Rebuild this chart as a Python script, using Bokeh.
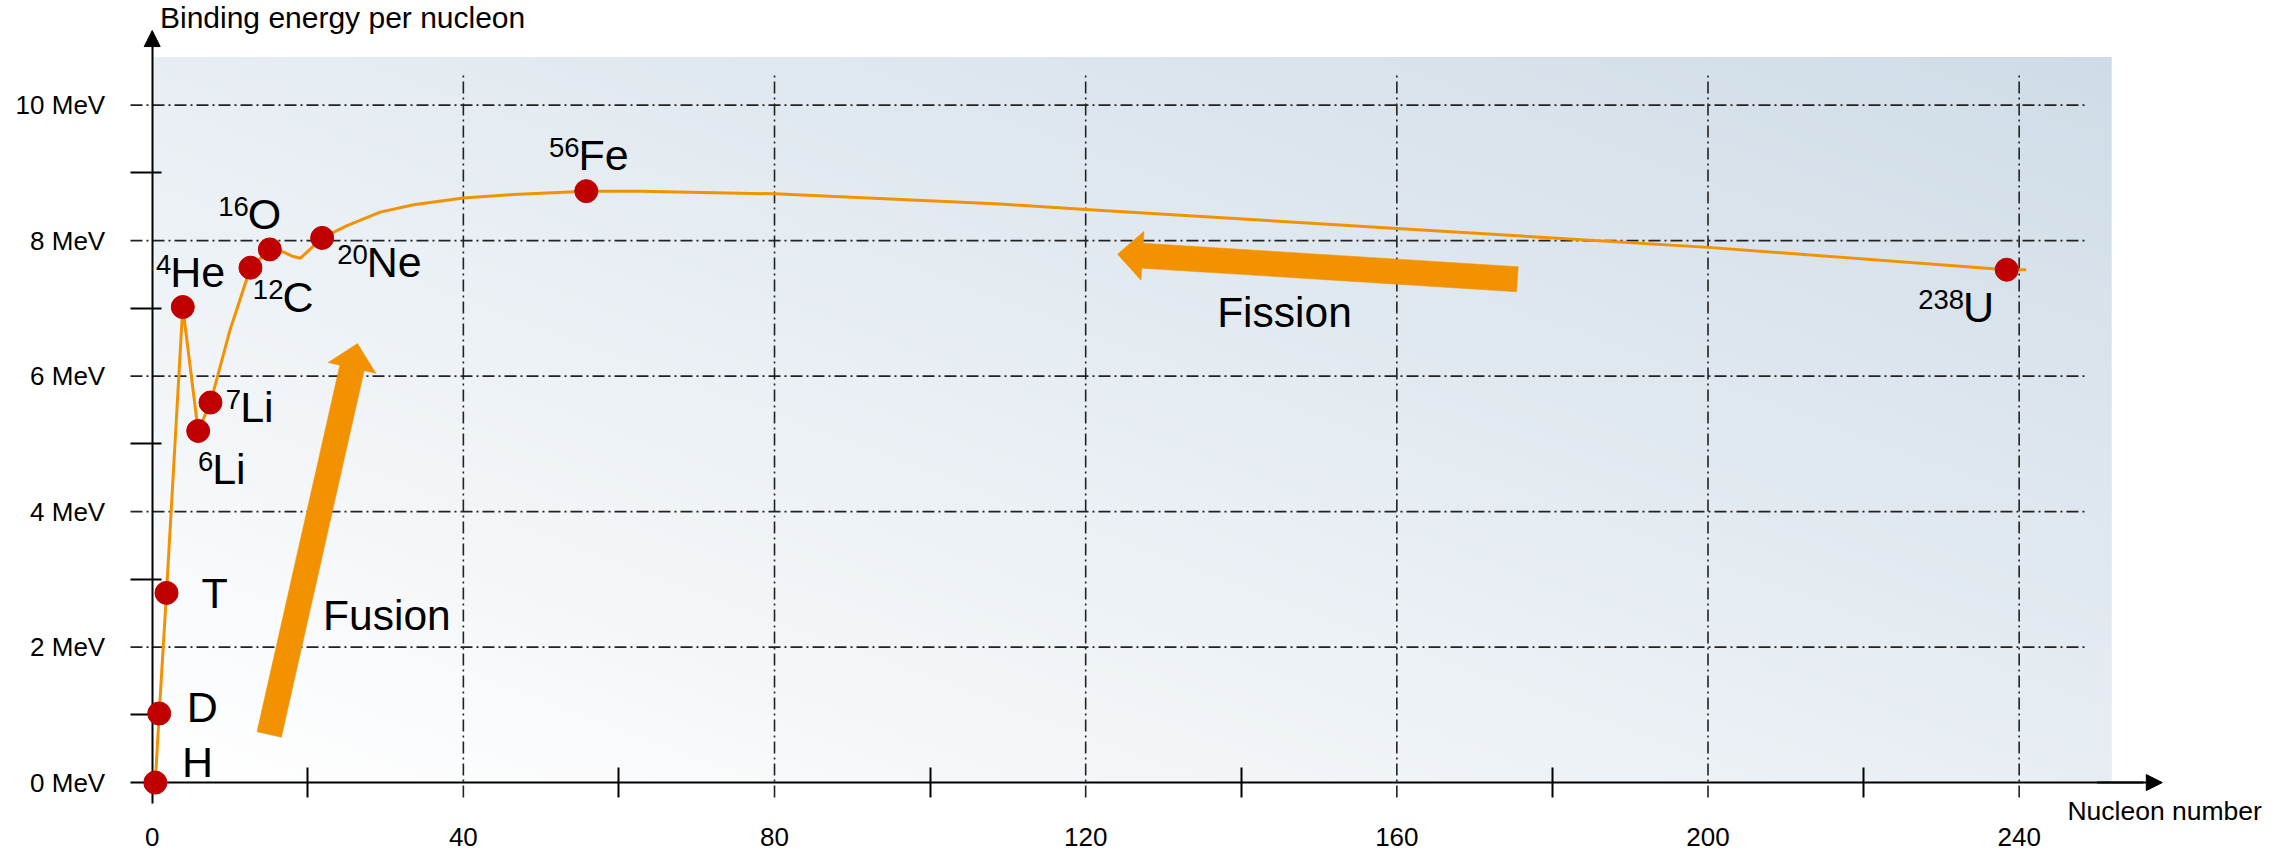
import math
import numpy as np
from bokeh.plotting import figure
from bokeh.models import (Range1d, FixedTicker, PrintfTickFormatter, Arrow,
                          NormalHead, Label, ColumnDataSource)
from bokeh.core.properties import value
from bokeh.embed import file_html
from bokeh.resources import INLINE

# ---------------- data ----------------
isotope_symbol = ["H", "D", "T", "He", "Li", "Li", "C", "O", "Ne", "Fe", "U"]
isotope_mass = ["", "", "", "4", "6", "7", "12", "16", "20", "56", "238"]
nucleon_number = [0.4, 0.9, 1.84, 3.93, 5.91, 7.49, 12.63, 15.12, 21.85, 55.8, 238.4]
binding_energy = [0.0, 1.02, 2.80, 7.02, 5.19, 5.61, 7.60, 7.87, 8.04, 8.73, 7.57]

# further points
curve_extra_a = [9.98, 16.7, 18.0, 19.06, 25.06, 29.3, 33.6, 40.0, 46.5, 62.8,
                 80.0, 109.0, 120.0, 160.0, 200.0, 240.9]
curve_extra_e = [6.67, 7.84, 7.77, 7.74, 8.22, 8.42, 8.53, 8.63, 8.68, 8.73,
                 8.69, 8.54, 8.46, 8.18, 7.90, 7.57]

x_ticks = [0, 40, 80, 120, 160, 200, 240]
x_minor = [20, 60, 100, 140, 180, 220]
y_ticks = [0, 2, 4, 6, 8, 10]
y_minor = [1, 3, 5, 7, 9]

fusion_arrow = [(15.04, 0.71), (26.39, 6.48)]
fission_arrow = [(175.5, 7.43), (124.1, 7.80)]

# ---------------- layout / style ----------------
FONT = "Liberation Sans"
ORANGE = "#f39200"
RED = "#c00000"
GRID = "#222222"

W, H = 2293, 856
AX0, SX = 151.7, 7.779      # pixel of A=0, px per nucleon
EY0, SY = 782.1, 67.75      # pixel (from top) of E=0, px per MeV

LAB_FS, SUP_FS, BIG_FS = 43.0, 27.5, 42.5
MID = 0.36                  # cap centre above the baseline, in em

# label offsets (px) of the symbol text origin / baseline from its point (dy: downwards)
label_dx = [26.6, 27.6, 35.0, -12.6, 14.0, 29.7, 32.0, -22.0, 44.6, -7.7, -43.7]
label_dy = [-5.4, 9.4, 15.9, -19.8, 53.9, 19.7, 44.4, -19.7, 39.4, -20.7, 52.7]

p = figure(width=W, height=H,
           x_range=Range1d(-AX0 / SX, (W - AX0) / SX),
           y_range=Range1d(-(H - EY0) / SY, EY0 / SY),
           output_backend="svg", toolbar_location=None,
           min_border=0, outline_line_color=None,
           background_fill_color="white", border_fill_color="white")
p.xgrid.visible = False
p.ygrid.visible = False

# background gradient
bg_w, bg_h = 251.9, 10.71
nx, ny = 500, 150
u = np.linspace(0, 1, nx)[None, :]
v = np.linspace(0, 1, ny)[:, None]
t = (u + v) / 2.0
top = np.array([207, 220, 231])
img = np.empty((ny, nx), dtype=np.uint32)
view = img.view(dtype=np.uint8).reshape((ny, nx, 4))
for k in range(3):
    view[:, :, k] = np.round(255 + (top[k] - 255) * t).astype(np.uint8)
view[:, :, 3] = 255
p.image_rgba(image=[img], x=0, y=0, dw=bg_w, dh=bg_h, level="image")

# dash-dot grid lines
gx = x_ticks[1:]
gy = y_ticks[1:]
p.segment(x0=gx, y0=[-0.22] * len(gx), x1=gx, y1=[10.49] * len(gx),
          line_color=GRID, line_width=1.6, line_dash="12 4 2 4", level="image")
p.segment(x0=[-2.79] * len(gy), y0=gy, x1=[248.8] * len(gy), y1=gy,
          line_color=GRID, line_width=1.6, line_dash="12 4 2 4", level="image")

# axes
xa = p.xaxis[0]
ya = p.yaxis[0]
xa.fixed_location = 0
ya.fixed_location = 0
xa.ticker = FixedTicker(ticks=x_ticks, minor_ticks=x_minor)
ya.ticker = FixedTicker(ticks=y_ticks, minor_ticks=y_minor)
ya.formatter = PrintfTickFormatter(format="%d MeV")
xa.bounds = (-2.79, 256)
ya.bounds = (-0.31, 11.0)
for ax in (xa, ya):
    ax.axis_line_color = "black"
    ax.axis_line_width = 2
    ax.major_tick_in = 0
    ax.major_tick_out = 0
    ax.major_tick_line_color = None
    ax.minor_tick_line_color = "black"
    ax.minor_tick_line_width = 2
    ax.major_label_text_font = FONT
    ax.major_label_text_font_size = "26px"
    ax.major_label_text_color = "black"
    ax.level = "underlay"
xa.minor_tick_in = 15
xa.minor_tick_out = 15
xa.major_label_standoff = 30
ya.minor_tick_in = 9
ya.minor_tick_out = 22
ya.major_label_standoff = 25

p.add_layout(Arrow(end=NormalHead(size=16, fill_color="black", line_color="black", line_width=1),
                   x_start=250, y_start=0, x_end=258.4, y_end=0,
                   line_color="black", line_width=2))
p.add_layout(Arrow(end=NormalHead(size=16, fill_color="black", line_color="black", line_width=1),
                   x_start=0, y_start=10.9, x_end=0, y_end=11.10,
                   line_color="black", line_width=2))


# big orange arrows
def arrow_patch(start, end, shaft=25.0, head_w=49.0, head_l=25.0):
    X0, Y0 = start[0] * SX, start[1] * SY
    X1, Y1 = end[0] * SX, end[1] * SY
    dx, dy = X1 - X0, Y1 - Y0
    L = math.hypot(dx, dy)
    ux, uy = dx / L, dy / L
    nx_, ny_ = -uy, ux
    bx, by = X1 - ux * head_l, Y1 - uy * head_l
    pts = [(X0 + nx_ * shaft / 2, Y0 + ny_ * shaft / 2),
           (bx + nx_ * shaft / 2, by + ny_ * shaft / 2),
           (bx + nx_ * head_w / 2, by + ny_ * head_w / 2),
           (X1, Y1),
           (bx - nx_ * head_w / 2, by - ny_ * head_w / 2),
           (bx - nx_ * shaft / 2, by - ny_ * shaft / 2),
           (X0 - nx_ * shaft / 2, Y0 - ny_ * shaft / 2)]
    return [q[0] / SX for q in pts], [q[1] / SY for q in pts]


for arr in (fusion_arrow, fission_arrow):
    ax_, ay_ = arrow_patch(arr[0], arr[1])
    p.patch(ax_, ay_, fill_color=ORANGE, line_color=ORANGE, line_width=0.5)

# curve
pts = sorted(zip(nucleon_number + curve_extra_a, binding_energy + curve_extra_e))
p.line([q[0] for q in pts], [q[1] for q in pts], line_color=ORANGE,
       line_width=3, line_join="round")

# isotope points
p.scatter(nucleon_number, binding_energy, size=23, fill_color=RED, line_color=RED)

# isotope labels (placed by the centre of their capitals)
base_y = [e - dy / SY for e, dy in zip(binding_energy, label_dy)]
lab_x = [a + dx / SX for a, dx in zip(nucleon_number, label_dx)]
lab_y = [b + MID * LAB_FS / SY for b in base_y]
sup_x = [x + 1.0 / SX for x in lab_x]
sup_y = [b + (13.0 + MID * SUP_FS) / SY for b in base_y]

src = ColumnDataSource(dict(x=lab_x, y=lab_y, sx=sup_x, sy=sup_y,
                            sym=isotope_symbol, mass=isotope_mass))
p.text(x="x", y="y", text="sym", source=src, text_font=value(FONT),
       text_font_size=value("%.1fpx" % LAB_FS), text_align="left",
       text_baseline="middle", text_color="black")
p.text(x="sx", y="sy", text="mass", source=src, text_font=value(FONT),
       text_font_size=value("%.1fpx" % SUP_FS), text_align="right",
       text_baseline="middle", text_color="black")


def caption(text, a, base_px, fs):
    """a: data x of the left edge; base_px: baseline, in px from top."""
    y = (EY0 - (base_px - MID * fs)) / SY
    p.add_layout(Label(x=a, y=y, text=text, text_font=FONT,
                       text_font_size="%.1fpx" % fs, text_baseline="middle",
                       text_color="black"))


caption("Fusion", 21.97, 629.8, BIG_FS)
caption("Fission", 136.9, 327.7, BIG_FS)
caption("Binding energy per nucleon", 1.0, 27.5, 30.0)
caption("Nucleon number", 246.2, 820.0, 26.5)

open("out.html", "w").write(file_html(p, INLINE))
